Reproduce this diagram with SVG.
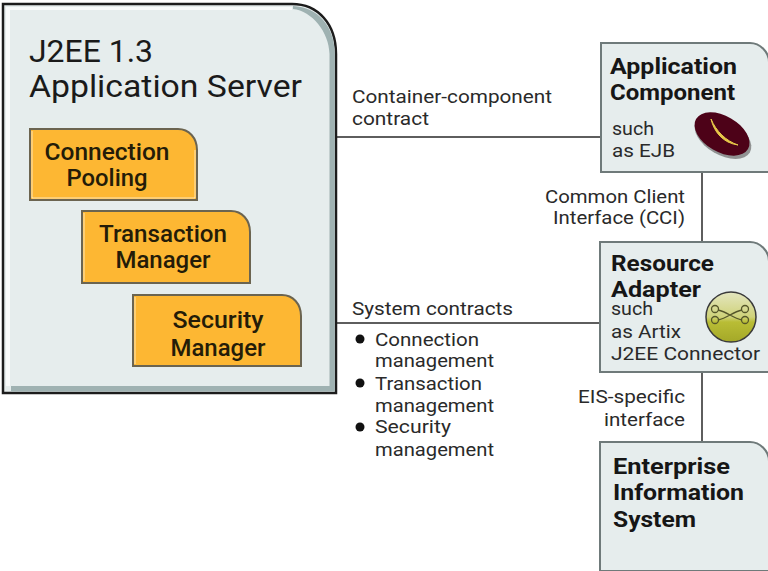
<svg xmlns="http://www.w3.org/2000/svg" width="768" height="571" viewBox="0 0 768 571">
<defs>
<style>
text{font-family:Roboto,"Noto Sans","Liberation Sans",sans-serif;fill:#1c1c1c;font-weight:400}
.lab{font-size:17.5px;fill:#2a2a2a}
.h{font-size:22px;font-weight:700;fill:#161616}
.o{font-size:23px;fill:#241c08;font-weight:500}
.t{font-size:31px;fill:#1a1a1a}
.m{text-anchor:middle}
.e{text-anchor:end}
.card{fill:#e6eded;stroke:#6f7a7a;stroke-width:2}
.orange{fill:#fdb733;stroke:#6b6450;stroke-width:2}
.hl{fill:none;stroke:#fff;stroke-width:1;opacity:.65}
.conn{stroke:#5e5e5e;stroke-width:2;fill:none}
</style>
<linearGradient id="g" x1="0" y1="0" x2="0" y2="1"><stop offset="0" stop-color="#e4e6c0"/><stop offset=".5" stop-color="#cfd27a"/><stop offset=".6" stop-color="#b9bd35"/><stop offset="1" stop-color="#a4a828"/></linearGradient>
</defs>
<rect width="768" height="571" fill="#fff"/>
<g id="connectors">
<path class="conn" d="M336 137H601"/>
<path class="conn" d="M336 323H600"/>
<path class="conn" d="M702 172V242"/>
<path class="conn" d="M702 372V442"/>
</g>
<g id="server">
<path d="M3 4H292C318 4 336 24 336 54V393H3Z" fill="#e6eded" stroke="#1c1c1c" stroke-width="2.500"/>
<path d="M293 6C318 7 334.500 26 334.800 54V391.500H11V386H329.500V54C329 32 312 11 293 9Z" fill="#9fb2b2"/>
<path d="M6 7H292V10H10V386H6Z" fill="#fff" opacity=".75"/>
<text class="t" x="29" y="62" textLength="124" lengthAdjust="spacingAndGlyphs">J2EE 1.3</text>
<text class="t" x="29" y="97" textLength="273" lengthAdjust="spacingAndGlyphs">Application Server</text>
</g>
<g id="connection-pooling">
<path class="orange" d="M30 129H178C189 129 197 138 197 150V200H30Z"/>
<path class="hl" d="M32 131V198H195V150"/>
<text class="o m" x="107" y="160" textLength="125" lengthAdjust="spacingAndGlyphs">Connection</text>
<text class="o m" x="107" y="186" textLength="81" lengthAdjust="spacingAndGlyphs">Pooling</text>
</g>
<g id="transaction-manager">
<path class="orange" d="M82 211H231C242 211 250 220 250 232V283H82Z"/>
<path class="hl" d="M84 213V281"/>
<text class="o m" x="163" y="242" textLength="128" lengthAdjust="spacingAndGlyphs">Transaction</text>
<text class="o m" x="163" y="268" textLength="95" lengthAdjust="spacingAndGlyphs">Manager</text>
</g>
<g id="security-manager">
<path class="orange" d="M133 295H282C293 295 301 304 301 316V366H133Z"/>
<path class="hl" d="M135 297V364"/>
<text class="o m" x="218" y="328" textLength="91" lengthAdjust="spacingAndGlyphs">Security</text>
<text class="o m" x="218" y="356" textLength="95" lengthAdjust="spacingAndGlyphs">Manager</text>
</g>
<g id="application-component">
<path class="card" d="M601 43H750C760 43 769 52 769 62V172H601Z"/>
<text class="h" x="610" y="74" textLength="127" lengthAdjust="spacingAndGlyphs">Application</text>
<text class="h" x="610" y="100" textLength="125" lengthAdjust="spacingAndGlyphs">Component</text>
<text class="lab" x="612" y="135" textLength="42" lengthAdjust="spacingAndGlyphs">such</text>
<text class="lab" x="612" y="157" textLength="63" lengthAdjust="spacingAndGlyphs">as EJB</text>
<ellipse cx="723" cy="137" rx="31" ry="18" transform="rotate(30 723 137)" fill="#6b6b6b" opacity=".7"/>
<ellipse cx="722" cy="134" rx="30" ry="18" transform="rotate(30 722 134)" fill="#4d0218"/>
<path d="M711 119C716 131 726 141 738 145C723 143 714 132 711 119Z" fill="#e8c94a" stroke="#e8c94a"/>
</g>
<g id="resource-adapter">
<path class="card" d="M600 242H750C760 242 769 251 769 261V372H600Z"/>
<text class="h" x="611" y="271" textLength="103" lengthAdjust="spacingAndGlyphs">Resource</text>
<text class="h" x="611" y="297" textLength="90" lengthAdjust="spacingAndGlyphs">Adapter</text>
<text class="lab" x="611" y="315" textLength="42" lengthAdjust="spacingAndGlyphs">such</text>
<text class="lab" x="611" y="338" textLength="70" lengthAdjust="spacingAndGlyphs">as Artix</text>
<text class="lab" x="611" y="360" textLength="149" lengthAdjust="spacingAndGlyphs">J2EE Connector</text>
<circle cx="731" cy="317" r="25" fill="url(#g)" stroke="#3a3a3a" stroke-width="1.500"/>
<g fill="none" stroke="#55562a" stroke-width="1.300">
<circle cx="715" cy="309" r="3.500"/><circle cx="745" cy="309" r="3.500"/><circle cx="715" cy="320" r="3.500"/><circle cx="745" cy="320" r="3.500"/>
<path d="M718 310C728 312 732 318 742 320M718 320C728 318 732 312 742 310"/>
</g>
</g>
<g id="enterprise-information-system">
<path class="card" d="M600 442H750C760 442 769 451 769 461V571H600Z"/>
<text class="h" x="613" y="474" textLength="117" lengthAdjust="spacingAndGlyphs">Enterprise</text>
<text class="h" x="613" y="500" textLength="131" lengthAdjust="spacingAndGlyphs">Information</text>
<text class="h" x="613" y="527" textLength="83" lengthAdjust="spacingAndGlyphs">System</text>
</g>
<g id="labels">
<text class="lab" x="352" y="103" textLength="200" lengthAdjust="spacingAndGlyphs">Container-component</text>
<text class="lab" x="352" y="125" textLength="77" lengthAdjust="spacingAndGlyphs">contract</text>
<text class="lab e" x="685" y="203" textLength="140" lengthAdjust="spacingAndGlyphs">Common Client</text>
<text class="lab e" x="685" y="224" textLength="132" lengthAdjust="spacingAndGlyphs">Interface (CCI)</text>
<text class="lab" x="352" y="315" textLength="161" lengthAdjust="spacingAndGlyphs">System contracts</text>
<circle cx="360" cy="339" r="4.500" fill="#111"/>
<text class="lab" x="375" y="346" textLength="104" lengthAdjust="spacingAndGlyphs">Connection</text>
<text class="lab" x="375" y="367" textLength="119" lengthAdjust="spacingAndGlyphs">management</text>
<circle cx="360" cy="383" r="4.500" fill="#111"/>
<text class="lab" x="375" y="390" textLength="107" lengthAdjust="spacingAndGlyphs">Transaction</text>
<text class="lab" x="375" y="412" textLength="119" lengthAdjust="spacingAndGlyphs">management</text>
<circle cx="360" cy="427" r="4.500" fill="#111"/>
<text class="lab" x="375" y="433" textLength="76" lengthAdjust="spacingAndGlyphs">Security</text>
<text class="lab" x="375" y="456" textLength="119" lengthAdjust="spacingAndGlyphs">management</text>
<text class="lab e" x="685" y="403" textLength="107" lengthAdjust="spacingAndGlyphs">EIS-specific</text>
<text class="lab e" x="685" y="426" textLength="81" lengthAdjust="spacingAndGlyphs">interface</text>
</g>
</svg>
